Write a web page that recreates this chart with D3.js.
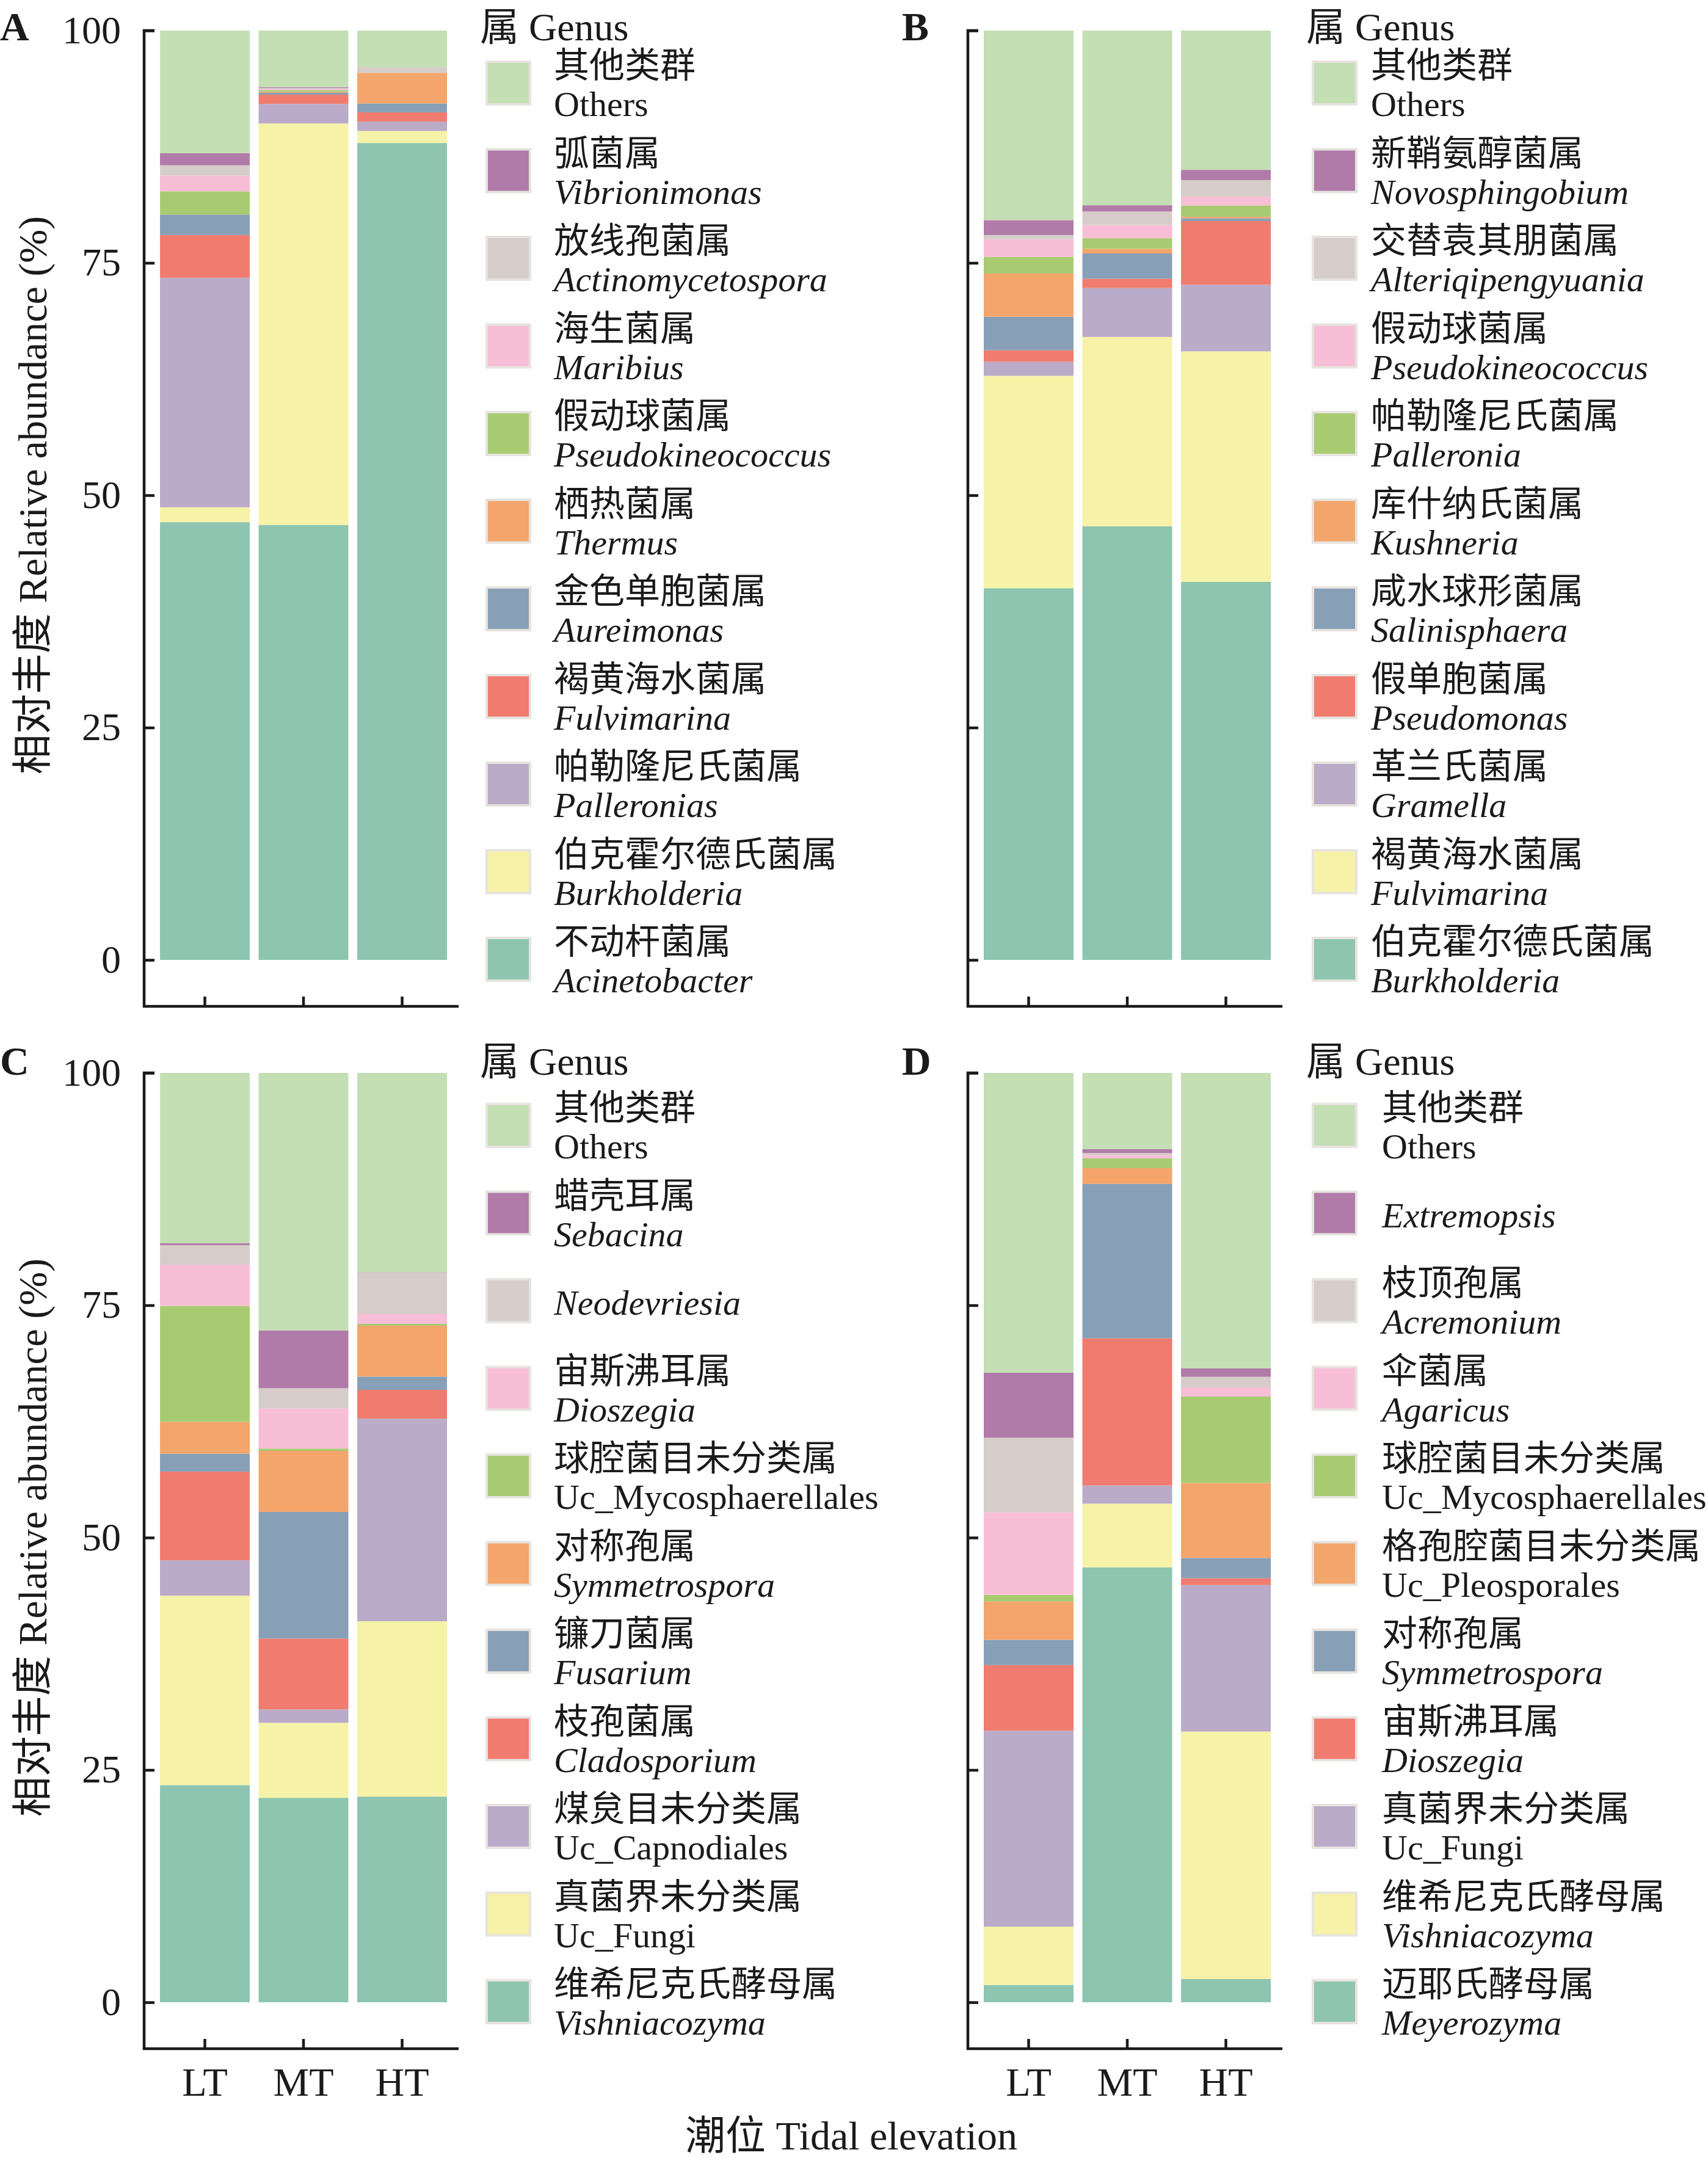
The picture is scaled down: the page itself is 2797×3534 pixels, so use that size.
<!DOCTYPE html>
<html lang="zh">
<head>
<meta charset="UTF-8">
<title>潮位 Tidal elevation - 属 Genus</title>
<script src="https://cdn.jsdelivr.net/npm/d3@7/dist/d3.min.js"></script>
<style>
    body { margin: 0; background: #fff; }
    text { font-family: "Liberation Serif", "Times New Roman", "Noto Sans CJK SC", serif; fill: #1a1a1a; }
    .tick text { font-size: 64px; }
    .tick line { stroke: #1a1a1a; stroke-width: 4.5px; }
    .axis-line { stroke: #1a1a1a; stroke-width: 4.5px; fill: none; }
    .panel-tag { font-size: 66px; font-weight: bold; }
    .leg-title { font-size: 64px; }
    .leg-text { font-size: 58px; }
    .axis-title { font-size: 66px; }
</style>
</head>
<body>
<script>
    // 样本（潮位）
    const samples = ["LT", "MT", "HT"];
    const yTicks = [0, 25, 50, 75, 100];

    // 堆叠颜色（自下而上）
    const colors = ["#8dc5b0", "#f6f2a8", "#baabc8", "#ef7c6f", "#87a0b7", "#f3a56b",
                    "#a8cb72", "#f8bed6", "#d6ccc9", "#b07ba9", "#c4dfb4"];

    // A 细菌
    const cnA = ["不动杆菌属", "伯克霍尔德氏菌属", "帕勒隆尼氏菌属", "褐黄海水菌属", "金色单胞菌属", "栖热菌属",
                 "假动球菌属", "海生菌属", "放线孢菌属", "弧菌属", "其他类群"];
    const enA = ["Acinetobacter", "Burkholderia", "Palleronias", "Fulvimarina", "Aureimonas", "Thermus",
                 "Pseudokineococcus", "Maribius", "Actinomycetospora", "Vibrionimonas", "Others"];
    const ltA = [47.1, 1.6, 24.7, 4.6, 2.2, 0, 2.5, 1.7, 1.1, 1.3, 13.2];
    const mtA = [46.8, 43.2, 2.1, 1.0, 0.2, 0.1, 0.2, 0.1, 0.1, 0.1, 6.1];
    const htA = [87.9, 1.3, 1.0, 1.0, 0.95, 3.3, 0, 0, 0.6, 0, 3.95];

    // B
    const cnB = ["伯克霍尔德氏菌属", "褐黄海水菌属", "革兰氏菌属", "假单胞菌属", "咸水球形菌属", "库什纳氏菌属",
                 "帕勒隆尼氏菌属", "假动球菌属", "交替袁其朋菌属", "新鞘氨醇菌属", "其他类群"];
    const enB = ["Burkholderia", "Fulvimarina", "Gramella", "Pseudomonas", "Salinisphaera", "Kushneria",
                 "Palleronia", "Pseudokineococcus", "Alteriqipengyuania", "Novosphingobium", "Others"];
    const ltB = [40.0, 22.85, 1.5, 1.25, 3.6, 4.65, 1.8, 1.9, 0.45, 1.6, 20.4];
    const mtB = [46.65, 20.38, 5.27, 1.0, 2.72, 0.5, 1.13, 1.42, 1.46, 0.67, 18.8];
    const htB = [40.67, 24.81, 7.16, 6.86, 0.3, 0.17, 1.21, 0.93, 1.8, 1.1, 14.99];

    // C 真菌
    const cnC = ["维希尼克氏酵母属", "真菌界未分类属", "煤炱目未分类属", "枝孢菌属", "镰刀菌属", "对称孢属",
                 "球腔菌目未分类属", "宙斯沸耳属", "", "蜡壳耳属", "其他类群"];
    const enC = ["Vishniacozyma", "Uc_Fungi", "Uc_Capnodiales", "Cladosporium", "Fusarium", "Symmetrospora",
                 "Uc_Mycosphaerellales", "Dioszegia", "Neodevriesia", "Sebacina", "Others"];
    const ltC = [23.37, 20.38, 3.81, 9.54, 1.93, 3.43, 12.47, 4.43, 2.11, 0.21, 18.32];
    const mtC = [22.0, 8.07, 1.44, 7.63, 13.62, 6.57, 0.25, 4.31, 2.18, 6.23, 27.7];
    const htC = [22.13, 18.87, 21.8, 3.1, 1.42, 5.48, 0.2, 1.05, 4.44, 0.05, 21.46];

    // D
    const cnD = ["迈耶氏酵母属", "维希尼克氏酵母属", "真菌界未分类属", "宙斯沸耳属", "对称孢属", "格孢腔菌目未分类属",
                 "球腔菌目未分类属", "伞菌属", "枝顶孢属", "", "其他类群"];
    const enD = ["Meyerozyma", "Vishniacozyma", "Uc_Fungi", "Dioszegia", "Symmetrospora", "Uc_Pleosporales",
                 "Uc_Mycosphaerellales", "Agaricus", "Acremonium", "Extremopsis", "Others"];
    const ltD = [1.86, 6.28, 21.08, 7.06, 2.72, 4.12, 0.73, 8.86, 8.03, 7.01, 32.25];
    const mtD = [46.8, 6.85, 1.96, 15.83, 16.62, 1.69, 1.06, 0.37, 0.19, 0.42, 8.21];
    const htD = [2.51, 26.62, 15.76, 0.74, 2.18, 8.07, 9.3, 0.98, 1.14, 0.9, 31.8];

    const W = 2797, H = 3534;
    const svg = d3.select("body").append("svg").attr("width", W).attr("height", H);

    // 画板位置
    const panels = [
        {tag: "A", cn: cnA, en: enA, vals: [ltA, mtA, htA], ox: 236, top: 50, tagX: 0, legX: 786, txtX: 907, left: true, bottom: false},
        {tag: "B", cn: cnB, en: enB, vals: [ltB, mtB, htB], ox: 1585, top: 50, tagX: 1477, legX: 2139, txtX: 2245, left: false, bottom: false},
        {tag: "C", cn: cnC, en: enC, vals: [ltC, mtC, htC], ox: 236, top: 1757, tagX: 0, legX: 786, txtX: 907, left: true, bottom: true},
        {tag: "D", cn: cnD, en: enD, vals: [ltD, mtD, htD], ox: 1585, top: 1757, tagX: 1477, legX: 2139, txtX: 2263, left: false, bottom: true}
    ];

    panels.forEach(drawPanel);

    function drawPanel(p) {
        const plotH = 1522;
        const y0 = p.top + plotH;
        const axisY = y0 + 76;
        const axisRight = p.ox + 515;
        // 顶行文字稍下移，免得贴边被裁
        const headY = Math.max(p.top + 3, 66);

        const y = d3.scaleLinear().domain([0, 100]).range([y0, p.top]);
        const x = d3.scaleBand().domain(samples).range([p.ox + 26, p.ox + 496]).paddingInner(0.09);

        // 堆叠数据
        const keys = d3.range(p.en.length);
        const rows = samples.map((s, i) => {
            const r = {sample: s};
            keys.forEach(k => r[k] = p.vals[i][k]);
            return r;
        });
        const series = d3.stack().keys(keys)(rows);

        const g = svg.append("g");
        g.selectAll("g.layer")
            .data(series)
            .join("g")
            .attr("class", "layer")
            .attr("fill", d => colors[d.key])
            .selectAll("rect")
            .data(d => d)
            .join("rect")
            .attr("x", d => x(d.data.sample))
            .attr("width", x.bandwidth())
            .attr("y", d => y(d[1]))
            .attr("height", d => Math.max(0, y(d[0]) - y(d[1])));

        // y 轴
        const yAxis = d3.axisLeft(y).tickValues(yTicks).tickSizeInner(-17).tickSizeOuter(0).tickPadding(38)
            .tickFormat(p.left ? d3.format("d") : () => "");
        g.append("g").attr("transform", `translate(${p.ox},0)`).call(yAxis)
            .call(a => a.select(".domain").remove());

        // x 轴
        const xAxis = d3.axisBottom(x).tickSizeInner(-16).tickSizeOuter(0).tickPadding(30)
            .tickFormat(p.bottom ? d => d : () => "");
        g.append("g").attr("transform", `translate(0,${axisY})`).call(xAxis)
            .call(a => a.select(".domain").remove())
            .selectAll(".tick text").style("font-size", "66px");

        g.append("path").attr("class", "axis-line")
            .attr("d", `M${p.ox + 17},${p.top}H${p.ox}V${axisY}H${axisRight}`);

        // 面板编号
        g.append("text").attr("class", "panel-tag").attr("x", p.tagX).attr("y", headY).text(p.tag);

        // y 轴标题
        if (p.left) {
            g.append("text").attr("class", "axis-title")
                .attr("transform", `translate(76,${(p.top + y0) / 2}) rotate(-90)`)
                .attr("text-anchor", "middle")
                .text("相对丰度 Relative abundance (%)");
        }

        // 图例
        const leg = g.append("g");
        leg.append("text").attr("class", "leg-title").attr("x", p.legX).attr("y", headY).text("属 Genus");
        const order = keys.slice().reverse();
        const item = leg.selectAll("g.item")
            .data(order)
            .join("g")
            .attr("class", "item")
            .attr("transform", (k, i) => `translate(0,${p.top + 49 + i * 143.5})`);
        item.append("rect")
            .attr("x", p.legX + 11).attr("y", 2)
            .attr("width", 71).attr("height", 70)
            .attr("fill", k => colors[k])
            .attr("stroke", "#e7e3df").attr("stroke-width", 4);
        item.append("text").attr("class", "leg-text")
            .attr("x", p.txtX).attr("y", 28)
            .text(k => p.cn[k]);
        item.append("text").attr("class", "leg-text")
            .attr("x", p.txtX)
            .attr("y", k => p.cn[k] ? 91 : 60)
            .style("font-style", k => (p.en[k] === "Others" || p.en[k].startsWith("Uc_")) ? "normal" : "italic")
            .text(k => p.en[k]);
    }

    // x 轴标题
    svg.append("text").attr("class", "axis-title")
        .attr("x", 1394).attr("y", 3520).attr("text-anchor", "middle")
        .text("潮位 Tidal elevation");
</script>
</body>
</html>
